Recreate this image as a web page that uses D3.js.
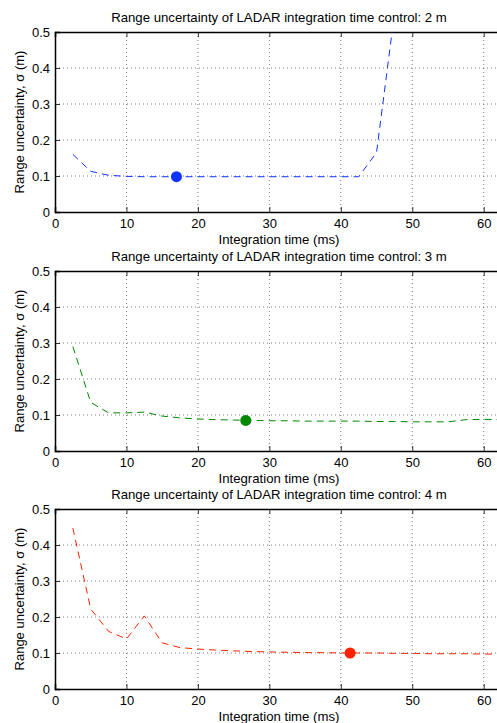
<!DOCTYPE html>
<html>
<head>
<meta charset="utf-8">
<script src="https://cdn.jsdelivr.net/npm/d3@7"></script>
<style>
  body { margin: 0; background: #fff; overflow: hidden; }
  svg { display: block; font-family: "Liberation Sans", Arial, sans-serif; }
</style>
</head>
<body>
<svg id="chart" width="497" height="723"></svg>
<script>
// integration times (ms) sampled every 2.5 ms
var times = [2.5, 5, 7.5, 10, 12.5, 15, 17.5, 20, 22.5, 25, 27.5, 30, 32.5, 35, 37.5, 40, 42.5, 45, 47.5, 50, 52.5, 55, 57.5, 60, 62.5];

// range uncertainty sigma (m) per range control
var sigma2m = [0.160, 0.113, 0.102, 0.099, 0.098, 0.098, 0.098, 0.098, 0.098, 0.098, 0.098, 0.098, 0.098, 0.098, 0.098, 0.098, 0.098, 0.165, 0.55, 1.2];
var sigma3m = [0.290, 0.135, 0.106, 0.106, 0.108, 0.097, 0.092, 0.089, 0.087, 0.086, 0.085, 0.084, 0.084, 0.083, 0.083, 0.083, 0.083, 0.082, 0.082, 0.081, 0.081, 0.081, 0.087, 0.088, 0.087];
var sigma4m = [0.447, 0.222, 0.160, 0.139, 0.203, 0.128, 0.115, 0.111, 0.108, 0.106, 0.104, 0.103, 0.102, 0.101, 0.101, 0.100, 0.100, 0.100, 0.099, 0.099, 0.098, 0.098, 0.098, 0.097, 0.097];

// optimum integration time picked by the controller
var optimum = [{t: 17, s: 0.098}, {t: 26.7, s: 0.085}, {t: 41.3, s: 0.100}];

var titles = ["Range uncertainty of LADAR integration time control: 2 m",
              "Range uncertainty of LADAR integration time control: 3 m",
              "Range uncertainty of LADAR integration time control: 4 m"];
var colors = ["#1133ff", "#008800", "#ff2200"];
var xTicks = [0, 10, 20, 30, 40, 50, 60];
var yTicks = [0, 0.1, 0.2, 0.3, 0.4, 0.5];

var series = [sigma2m, sigma3m, sigma4m];
var panelTops = [32, 271, 509];
var plotH = 180;
var left = 55, right = 503;

var svg = d3.select("#chart");

var x = d3.scaleLinear().domain([0, 62.7]).range([left, right]);

series.forEach(function(vals, i){
  var top = panelTops[i];
  var y = d3.scaleLinear().domain([0, 0.5]).range([top + plotH, top]);
  var g = svg.append("g");

  g.append("clipPath").attr("id", "clip" + i)
    .append("rect").attr("x", left).attr("y", top).attr("width", right - left).attr("height", plotH);

  // grid
  g.selectAll(".vgrid").data(xTicks.slice(1)).enter().append("line")
    .attr("x1", function(d){ return x(d); }).attr("x2", function(d){ return x(d); })
    .attr("y1", top).attr("y2", top + plotH)
    .attr("stroke", "#444").attr("stroke-width", 0.7).attr("stroke-dasharray", "1,3");
  g.selectAll(".hgrid").data(yTicks.slice(1, 5)).enter().append("line")
    .attr("x1", left).attr("x2", right)
    .attr("y1", function(d){ return y(d); }).attr("y2", function(d){ return y(d); })
    .attr("stroke", "#444").attr("stroke-width", 0.7).attr("stroke-dasharray", "1,3");

  // axes
  var xAxis = d3.axisBottom(x).tickValues(xTicks).tickSize(-5).tickPadding(7).tickFormat(d3.format("d"));
  var ax = g.append("g").attr("transform", "translate(0," + (top + plotH) + ")").call(xAxis);
  var xAxisTop = d3.axisTop(x).tickValues(xTicks).tickSize(-5).tickFormat("");
  var axt = g.append("g").attr("transform", "translate(0," + top + ")").call(xAxisTop);
  var yAxis = d3.axisLeft(y).tickValues(yTicks).tickSize(-5).tickPadding(5)
    .tickFormat(function(d){ return d === 0 ? "0" : d3.format(".1f")(d); });
  var ay = g.append("g").attr("transform", "translate(" + left + ",0)").call(yAxis);

  [ax, axt, ay].forEach(function(a){
    a.select(".domain").attr("stroke", "#000").attr("stroke-width", 1.5);
    a.selectAll(".tick line").attr("stroke", "#000").attr("stroke-width", 0.8);
    a.selectAll("text").attr("fill", "#000").attr("font-size", 13)
      .attr("font-family", "Liberation Sans, Arial, sans-serif");
  });

  // curve
  var pts = vals.map(function(v, k){ return [times[k], v]; });
  var line = d3.line().x(function(d){ return x(d[0]); }).y(function(d){ return y(d[1]); });
  g.append("path").datum(pts)
    .attr("clip-path", "url(#clip" + i + ")")
    .attr("d", line)
    .attr("fill", "none").attr("stroke", colors[i]).attr("stroke-width", 1)
    .attr("stroke-dasharray", "7,5");

  // optimum marker
  g.append("circle")
    .attr("cx", x(optimum[i].t)).attr("cy", y(optimum[i].s)).attr("r", 5.5)
    .attr("fill", colors[i]);

  // labels
  g.append("text").attr("x", (left + right) / 2).attr("y", top - 10)
    .attr("text-anchor", "middle").attr("font-size", 13.2).text(titles[i]);
  g.append("text").attr("x", (left + right) / 2).attr("y", top + plotH + 32)
    .attr("text-anchor", "middle").attr("font-size", 13.2).text("Integration time (ms)");
  g.append("text").attr("transform", "translate(24," + (top + plotH / 2) + ") rotate(-90)")
    .attr("text-anchor", "middle").attr("font-size", 13).text("Range uncertainty, σ (m)");
});
</script>
</body>
</html>
